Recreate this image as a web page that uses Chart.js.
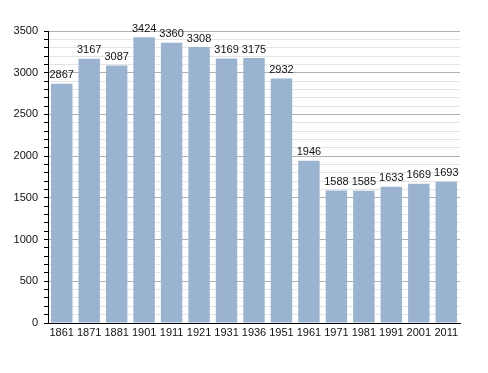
<!DOCTYPE html>
<html>
<head>
<meta charset="utf-8">
<script src="https://cdn.jsdelivr.net/npm/chart.js@4.4.9/dist/chart.umd.min.js"></script>
<style>
  html, body { margin: 0; padding: 0; background: #fff; }
  canvas { display: block; }
</style>
</head>
<body>
<canvas id="myChart" width="488" height="373"></canvas>
<script>
const years = ["1861", "1871", "1881", "1901", "1911", "1921", "1931", "1936", "1951", "1961", "1971", "1981", "1991", "2001", "2011"];
const population = [2867, 3167, 3087, 3424, 3360, 3308, 3169, 3175, 2932, 1946, 1588, 1585, 1633, 1669, 1693];

// draws the value above each bar
const valueLabels = {
  id: "valueLabels",
  afterDatasetsDraw(chart) {
    const ctx = chart.ctx;
    const meta = chart.getDatasetMeta(0);
    ctx.save();
    ctx.font = "11px 'Liberation Sans', Arial, sans-serif";
    ctx.fillStyle = "#111";
    ctx.textAlign = "center";
    ctx.textBaseline = "bottom";
    meta.data.forEach((bar, i) => {
      ctx.fillText(String(population[i]), bar.x, bar.y - 3);
    });
    ctx.restore();
  },
};

const $canvas = document.getElementById("myChart");

new Chart($canvas, {
  type: "bar",
  data: {
    labels: years,
    datasets: [
      {
        data: population,
        backgroundColor: "#99b3d1",
        borderWidth: 0,
        categoryPercentage: 0.78,
        barPercentage: 1,
      },
    ],
  },
  options: {
    responsive: false,
    animation: false,
    layout: { padding: { top: 31, right: 28, left: 0, bottom: 0 } },
    plugins: {
      legend: { display: false },
      tooltip: { enabled: false },
    },
    scales: {
      x: {
        grid: { display: false, drawTicks: false },
        border: { color: "#000", width: 1 },
        ticks: {
          color: "#111",
          font: { family: "'Liberation Sans', Arial, sans-serif", size: 11 },
          padding: 3,
          maxRotation: 0,
          autoSkip: false,
        },
        afterFit(scale) {
          scale.height = 50;
        },
      },
      y: {
        min: 0,
        max: 3500,
        border: { color: "#000", width: 1 },
        grid: {
          color: (c) => (c.tick && c.tick.value % 500 === 0 ? "#b0b0b0" : "#e4e4e4"),
          tickColor: "#000",
          tickLength: 4,
        },
        ticks: {
          stepSize: 100,
          autoSkip: false,
          color: "#111",
          font: { family: "'Liberation Sans', Arial, sans-serif", size: 11 },
          padding: 6,
          callback: (v) => (v % 500 === 0 ? v : ""),
        },
        afterFit(scale) {
          scale.width = 48;
        },
      },
    },
  },
  plugins: [valueLabels],
});
</script>
</body>
</html>
